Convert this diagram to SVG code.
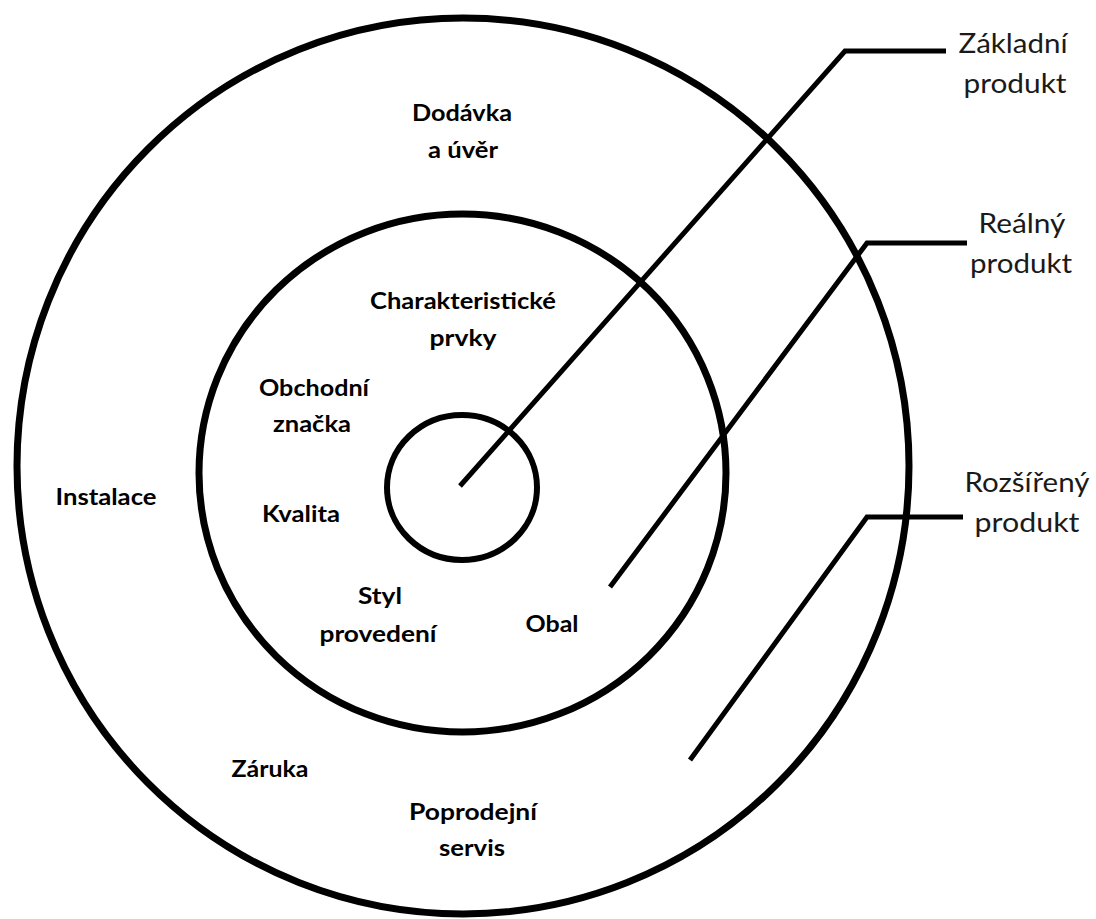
<svg xmlns="http://www.w3.org/2000/svg" width="1096" height="919" viewBox="0 0 1096 919">
<style>
.ring{fill:none;stroke:#000;}
.lbl{font-family:Lato,"Open Sans","Liberation Sans",sans-serif;font-weight:bold;font-size:22px;fill:#000;text-anchor:middle;}
.side{font-family:Lato,"Open Sans","Liberation Sans",sans-serif;font-size:27px;fill:#1a1a1a;text-anchor:middle;}
.con{fill:none;stroke:#000;stroke-width:5;stroke-linejoin:miter;}
</style>
<rect width="1096" height="919" fill="#fff"/>
<g id="outer">
<ellipse class="ring" cx="463" cy="466" rx="446" ry="448" stroke-width="7"/>
<text class="lbl" x="462" y="121" textLength="100" lengthAdjust="spacingAndGlyphs">Dodávka</text>
<text class="lbl" x="463" y="158" textLength="70" lengthAdjust="spacingAndGlyphs">a úvěr</text>
<text class="lbl" x="106" y="505" textLength="101" lengthAdjust="spacingAndGlyphs">Instalace</text>
<text class="lbl" x="270" y="777" textLength="77" lengthAdjust="spacingAndGlyphs">Záruka</text>
<text class="lbl" x="473" y="820" textLength="128" lengthAdjust="spacingAndGlyphs">Poprodejní</text>
<text class="lbl" x="472" y="856" textLength="66" lengthAdjust="spacingAndGlyphs">servis</text>
</g>
<g id="middle">
<ellipse class="ring" cx="462.5" cy="473" rx="263.5" ry="259" stroke-width="7"/>
<text class="lbl" x="463" y="309" textLength="186" lengthAdjust="spacingAndGlyphs">Charakteristické</text>
<text class="lbl" x="463" y="346" textLength="67" lengthAdjust="spacingAndGlyphs">prvky</text>
<text class="lbl" x="314" y="396" textLength="110" lengthAdjust="spacingAndGlyphs">Obchodní</text>
<text class="lbl" x="312" y="432" textLength="78" lengthAdjust="spacingAndGlyphs">značka</text>
<text class="lbl" x="301" y="522" textLength="78" lengthAdjust="spacingAndGlyphs">Kvalita</text>
<text class="lbl" x="380" y="604" textLength="44" lengthAdjust="spacingAndGlyphs">Styl</text>
<text class="lbl" x="378" y="642" textLength="117" lengthAdjust="spacingAndGlyphs">provedení</text>
<text class="lbl" x="552" y="632" textLength="53" lengthAdjust="spacingAndGlyphs">Obal</text>
</g>
<g id="inner">
<ellipse class="ring" cx="462" cy="487.5" rx="75" ry="72.5" stroke-width="6"/>
</g>
<g id="connectors">
<polyline class="con" points="460,486 845,51 946,51"/>
<polyline class="con" points="610,587 867,243 967,243"/>
<polyline class="con" points="690,760 867,517 963,517"/>
</g>
<g id="label-zakladni">
<text class="side" x="1013" y="53" textLength="109" lengthAdjust="spacingAndGlyphs">Základní</text>
<text class="side" x="1015" y="93" textLength="103" lengthAdjust="spacingAndGlyphs">produkt</text>
</g>
<g id="label-realny">
<text class="side" x="1022" y="233" textLength="87" lengthAdjust="spacingAndGlyphs">Reálný</text>
<text class="side" x="1021" y="273" textLength="102" lengthAdjust="spacingAndGlyphs">produkt</text>
</g>
<g id="label-rozsireny">
<text class="side" x="1027" y="492" textLength="125" lengthAdjust="spacingAndGlyphs">Rozšířený</text>
<text class="side" x="1027" y="532" textLength="105" lengthAdjust="spacingAndGlyphs">produkt</text>
</g>
</svg>
